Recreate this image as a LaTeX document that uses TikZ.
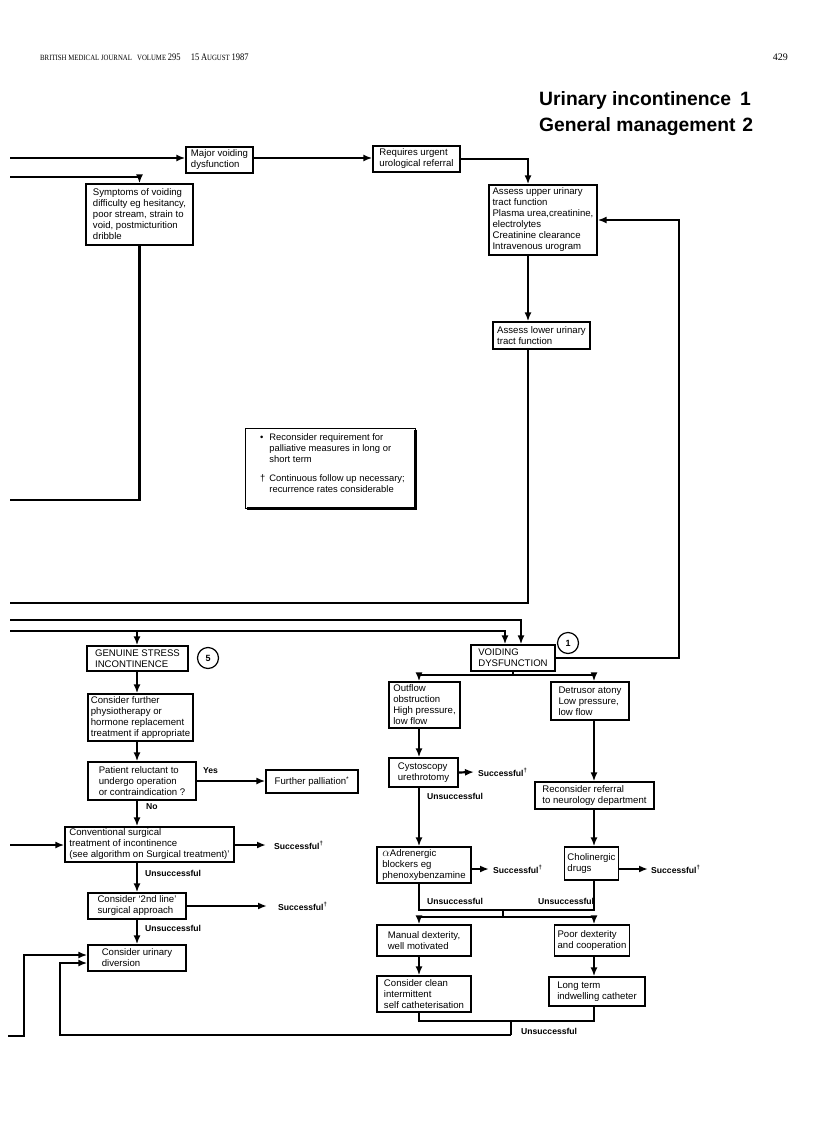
\documentclass[tikz,border=0pt]{standalone}
\usepackage{fontspec}
\setmainfont{Liberation Sans}
\newfontfamily\hdrfont{Liberation Serif}
\usetikzlibrary{arrows.meta,calc}
\tikzset{
  box/.style={draw, line width=1.3pt, inner xsep=3pt, inner ysep=1pt, align=left,
    font=\fontsize{9.6}{11}\selectfont, anchor=center},
  conn/.style={line width=2.2pt},
  arr/.style={conn, -{Latex[length=9pt,width=7pt]}},
  lbl/.style={font=\bfseries\fontsize{8.6}{10}\selectfont, inner sep=0pt},
  num/.style={circle, draw, line width=1.2pt, minimum size=21pt, inner sep=0pt,
    font=\bfseries\fontsize{9}{10}\selectfont},
}
\newcommand{\bx}[6]{%
  \pgfmathsetmacro{\bxw}{#4-#2}%
  \pgfmathsetmacro{\bxh}{#5-#3}%
  \pgfmathsetmacro{\bxcx}{(#2+#4)/2}%
  \pgfmathsetmacro{\bxcy}{(#3+#5)/2}%
  \node[box, minimum width=\bxw pt, minimum height=\bxh pt] (#1) at (\bxcx,\bxcy) {#6};}
\begin{document}
\begin{tikzpicture}[x=1pt,y=-1pt]
\useasboundingbox (0,0) rectangle (816,1121);

% header
\node[anchor=west, inner sep=0pt] (hdr) at (40,57) {\scalebox{0.85}[1]{\hdrfont\fontsize{8}{9}\selectfont BRITISH MEDICAL JOURNAL\hspace{6pt}VOLUME {\fontsize{10}{9}\selectfont 295}\hspace{12pt}{\fontsize{10}{9}\selectfont 15} {\fontsize{10}{9}\selectfont A}UGUST {\fontsize{10}{9}\selectfont 1987}}};
\node[anchor=east, inner sep=0pt] (pg) at (788,57) {\hdrfont\fontsize{10}{9}\selectfont 429};
\node[anchor=west, inner sep=0pt] (t1) at (539,101) {\bfseries\fontsize{19.3}{22}\selectfont Urinary incontinence\hspace{9pt}1};
\node[anchor=west, inner sep=0pt] (t2) at (539,127) {\bfseries\fontsize{19.3}{22}\selectfont General management\hspace{7pt}2};

% boxes
\bx{major}{186}{147}{253}{173}{Major voiding\\dysfunction}
\bx{urgent}{373}{146}{460}{172}{Requires urgent\\urological referral}
\bx{symp}{86}{184}{193}{245}{Symptoms of voiding\\difficulty eg hesitancy,\\poor stream, strain to\\void, postmicturition\\dribble}
\bx{upper}{489}{185}{597}{255}{Assess upper urinary\\tract function\\Plasma urea,creatinine,\\electrolytes\\Creatinine clearance\\Intravenous urogram}
\bx{lower}{493}{322}{590}{349}{Assess lower urinary\\tract function}
\bx{gsi}{87}{646}{188}{671}{GENUINE STRESS\\INCONTINENCE}
\bx{vd}{471}{645}{555}{671}{VOIDING\\DYSFUNCTION}
\bx{phys}{88}{694}{193}{741}{Consider further\\physiotherapy or\\hormone replacement\\treatment if appropriate}
\bx{pat}{88}{762}{196}{800}{Patient reluctant to\\undergo operation\\or contraindication ?}
\bx{pall}{266}{770}{358}{793}{Further palliation\textsuperscript{*}}
\bx{conv}{65}{827}{234}{862}{Conventional surgical\\treatment of incontinence\\(see algorithm on Surgical treatment)'}
\bx{second}{88}{893}{186}{919}{Consider ‘2nd line’\\surgical approach}
\bx{div}{88}{945}{186}{971}{Consider urinary\\diversion}
\bx{outflow}{389}{682}{460}{728}{Outflow\\obstruction\\High pressure,\\low flow}
\bx{detr}{551}{682}{629}{720}{Detrusor atony\\Low pressure,\\low flow}
\bx{cysto}{389}{758}{458}{787}{Cystoscopy\\urethrotomy}
\bx{recon}{535}{782}{654}{809}{Reconsider referral\\to neurology department}
\bx{alpha}{377}{847}{471}{883}{{\fontsize{12.5}{11}\selectfont$\alpha$}Adrenergic\\blockers eg\\phenoxybenzamine}
\bx{chol}{565}{847}{618}{880}{Cholinergic\\drugs}
\bx{manual}{377}{925}{471}{956}{Manual dexterity,\\well motivated}
\bx{poor}{555}{925}{629}{956}{Poor dexterity\\and cooperation}
\bx{clean}{377}{976}{471}{1012}{Consider clean\\intermittent\\self catheterisation}
\bx{long}{549}{977}{645}{1006}{Long term\\indwelling catheter}

% note box
\node[draw, line width=1pt, minimum width=170pt, minimum height=80pt, inner sep=0pt] (note) at (330,468) {};
\draw[line width=2.4pt] ([yshift=-2pt]note.north east) -- (note.south east) -- ([xshift=2pt]note.south west);
\node[anchor=north west, inner sep=0pt, align=left, font=\fontsize{9.4}{11}\selectfont] (notetxt) at (260,433)
 {\begin{tabular}{@{}l@{\hspace{4pt}}l@{}}
  • & Reconsider requirement for\\
   & palliative measures in long or\\
   & short term\\[8pt]
  † & Continuous follow up necessary;\\
   & recurrence rates considerable
 \end{tabular}};

% circles
\node[num] (c1) at (568,643) {1};
\node[num] (c5) at (208,658) {5};

% free-end and routing coordinates
\coordinate (L1) at (10,158);
\coordinate (L2) at (10,177);
\coordinate (L3) at (10,603);
\coordinate (L4) at (10,620);
\coordinate (L5) at (10,631);
\coordinate (L6) at (10,500);
\coordinate (L7) at (10,845);
\coordinate (L8) at (8,1036);
\coordinate (vx) at (528,0);
\coordinate (rx) at (679,0);
\coordinate (va) at (521,0);
\coordinate (vb) at (505,0);
\coordinate (cx) at (137,0);
\coordinate (lx) at (419,0);
\coordinate (rc) at (594,0);
\coordinate (h1) at (0,675);
\coordinate (h2) at (0,910);
\coordinate (h3) at (0,917);
\coordinate (h4) at (0,1021);
\coordinate (jm) at (503,910);
\coordinate (jb) at (511,1035);
\coordinate (k1) at (24,955);
\coordinate (k2) at (60,963);

% top connectors
\draw[arr] (L1) -- (L1 -| major.west);
\draw[arr] (L1 -| major.east) -- (L1 -| urgent.west);
\draw[arr] (urgent.east) -| (vx |- upper.north);
\draw[arr] (vx |- upper.south) -- (vx |- lower.north);
\draw[conn] (vx |- lower.south) |- (L3);
\draw[arr] (L2) -| (symp.north);
\draw[conn] (symp.south) |- (L6);
\draw[arr] (vd.east) -| (rx |- upper.east) -- (upper.east);

% middle lines
\draw[arr] (L4) -| (va |- vd.north);
\draw[arr] (L5) -| (vb |- vd.north);
\draw[arr] (L5 -| cx) -- (cx |- gsi.north);

% left column
\draw[arr] (cx |- gsi.south) -- (cx |- phys.north);
\draw[arr] (cx |- phys.south) -- (cx |- pat.north);
\draw[arr] (pat.east) -- (pat.east -| pall.west);
\node[lbl, anchor=west] (yes) at (203,771) {Yes};
\draw[arr] (cx |- pat.south) -- (cx |- conv.north);
\node[lbl, anchor=west] (no) at (146,807) {No};
\draw[arr] (L7) -- (L7 -| conv.west);
\node[lbl, anchor=west] (s1) at (274,845) {Successful\textsuperscript{†}};
\draw[arr] (L7 -| conv.east) -- ([xshift=-8pt]s1.west);
\draw[arr] (cx |- conv.south) -- (cx |- second.north);
\node[lbl, anchor=west] (u1) at (145,873) {Unsuccessful};
\node[lbl, anchor=west] (s2) at (278,906) {Successful\textsuperscript{†}};
\draw[arr] (second.east) -- ([xshift=-11pt]s2.west);
\draw[arr] (cx |- second.south) -- (cx |- div.north);
\node[lbl, anchor=west] (u2) at (145,928) {Unsuccessful};
\draw[arr] (L8) -| (k1) -- (k1 -| div.west);
\draw[arr] (jb) -| (k2) -- (k2 -| div.west);

% right column
\draw[conn] (vd.south) -- (vd.south |- h1);
\draw[arr] (vd.south |- h1) -| (lx |- outflow.north);
\draw[arr] (vd.south |- h1) -| (rc |- detr.north);
\draw[arr] (lx |- outflow.south) -- (lx |- cysto.north);
\node[lbl, anchor=west] (s3) at (478,772) {Successful\textsuperscript{†}};
\draw[arr] (cysto.east) -- ([xshift=-4pt]s3.west);
\node[lbl, anchor=west] (u3) at (427,796) {Unsuccessful};
\draw[arr] (lx |- cysto.south) -- (lx |- alpha.north);
\draw[arr] (rc |- detr.south) -- (rc |- recon.north);
\draw[arr] (rc |- recon.south) -- (rc |- chol.north);
\node[lbl, anchor=west] (s4) at (493,869) {Successful\textsuperscript{†}};
\draw[arr] (alpha.east |- s4) -- ([xshift=-4pt]s4.west);
\node[lbl, anchor=west] (s5) at (651,869) {Successful\textsuperscript{†}};
\draw[arr] (chol.east |- s5) -- ([xshift=-3pt]s5.west);
\draw[conn] (lx |- alpha.south) |- (rc |- h2) -- (rc |- chol.south);
\node[lbl, anchor=west] (u4) at (427,901) {Unsuccessful};
\node[lbl, anchor=west] (u5) at (538,901) {Unsuccessful};
\draw[conn] (jm) -- (jm |- h3);
\draw[arr] (jm |- h3) -| (lx |- manual.north);
\draw[arr] (jm |- h3) -| (rc |- poor.north);
\draw[arr] (lx |- manual.south) -- (lx |- clean.north);
\draw[arr] (rc |- poor.south) -- (rc |- long.north);
\draw[conn] (lx |- clean.south) |- (rc |- h4) -- (rc |- long.south);
\draw[conn] (jb |- h4) -- (jb);
\node[lbl, anchor=west] (u6) at (521,1031) {Unsuccessful};
\end{tikzpicture}
\end{document}
